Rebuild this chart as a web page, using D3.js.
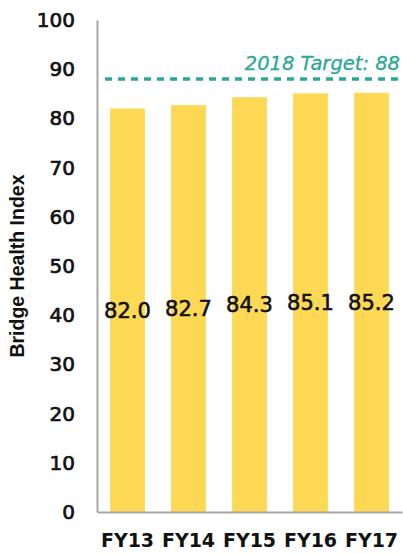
<!DOCTYPE html>
<html><head><meta charset="utf-8">
<script src="https://cdn.jsdelivr.net/npm/d3@7"></script>
<style>body{margin:0;background:#fff}svg{display:block}</style>
</head><body>
<script>
const categories = ["FY13","FY14","FY15","FY16","FY17"];
const values = [82.0, 82.7, 84.3, 85.1, 85.2];
const yTicks = [0,10,20,30,40,50,60,70,80,90,100];
const target = 88;
const targetLabel = "2018 Target: 88";
const yTitle = "Bridge Health Index";

const W = 403, H = 554;
const m = {left: 97, right: 0, top: 20, bottom: 42};
const svg = d3.select("body").append("svg").attr("width", W).attr("height", H);

const x = d3.scaleBand().domain(categories).range([m.left, W - 1]).paddingInner(0.43).paddingOuter(0.215);
const y = d3.scaleLinear().domain([0, 100]).range([H - m.bottom, m.top]);

// bars
svg.selectAll("rect.bar").data(values).join("rect")
  .attr("class","bar")
  .attr("x", (d,i) => x(categories[i]))
  .attr("width", x.bandwidth())
  .attr("y", d => y(d))
  .attr("height", d => y(0) - y(d))
  .attr("fill", "#FDD854");

// axes
const yAxis = svg.append("g").attr("transform", `translate(${m.left},0)`)
  .call(d3.axisLeft(y).tickValues(yTicks).tickSize(0).tickPadding(22));
yAxis.select(".domain").attr("stroke", "#a6a6a6").attr("stroke-width", 2);
yAxis.selectAll("text").attr("font-family", "DejaVu Sans, sans-serif")
  .attr("font-size", 20).attr("font-weight", "normal").attr("fill", "#111")
  .attr("stroke", "#111").attr("stroke-width", 0.7);

const xAxis = svg.append("g").attr("transform", `translate(0,${y(0)})`)
  .call(d3.axisBottom(x).tickSize(0).tickPadding(22));
xAxis.select(".domain").attr("stroke", "#a6a6a6").attr("stroke-width", 2);
xAxis.selectAll("text").attr("font-family", "DejaVu Sans, sans-serif")
  .attr("font-size", 19).attr("font-weight", "bold").attr("fill", "#111");

// value labels at bar middle
svg.selectAll("text.val").data(values).join("text")
  .attr("class","val")
  .attr("x", (d,i) => x(categories[i]) + x.bandwidth()/2)
  .attr("y", d => y(d/2))
  .attr("dy", "0.36em")
  .attr("text-anchor", "middle")
  .attr("font-family", "DejaVu Sans, sans-serif")
  .attr("font-size", 21)
  .attr("font-weight", "normal")
  .attr("fill", "#111")
  .attr("stroke", "#111").attr("stroke-width", 0.6)
  .text(d => d.toFixed(1));

// target line
svg.append("line")
  .attr("x1", m.left + 8).attr("x2", W)
  .attr("y1", y(target)).attr("y2", y(target))
  .attr("stroke", "#2BA898").attr("stroke-width", 3.5)
  .attr("stroke-dasharray", "7,6");
svg.append("text")
  .attr("x", W - 3).attr("y", y(target) - 9)
  .attr("text-anchor", "end")
  .attr("font-family", "DejaVu Sans, sans-serif")
  .attr("font-style", "italic")
  .attr("font-size", 19.5)
  .attr("fill", "#2BA898")
  .attr("stroke", "#2BA898").attr("stroke-width", 0.3)
  .text(targetLabel);

// y title
svg.append("text")
  .attr("transform", `translate(24,${(y(0)+y(100))/2}) rotate(-90)`)
  .attr("text-anchor", "middle")
  .attr("font-family", "Liberation Sans, Arial, sans-serif")
  .attr("font-weight", "bold")
  .attr("font-size", 19.5)
  .attr("fill", "#111")
  .text(yTitle);
</script>
</body></html>
